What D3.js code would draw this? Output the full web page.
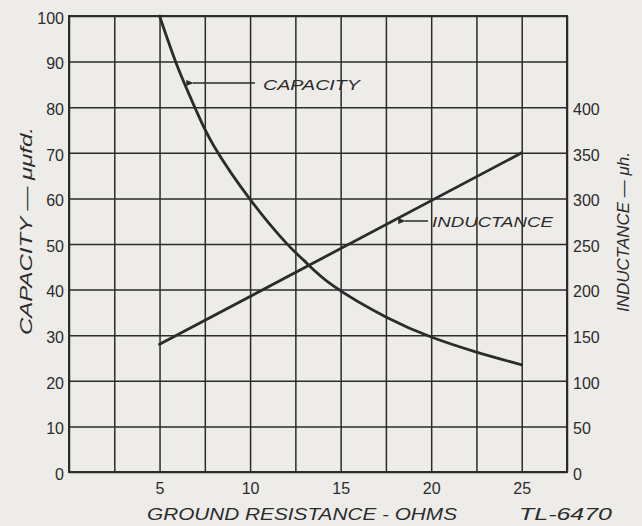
<!DOCTYPE html>
<html>
<head>
<meta charset="utf-8">
<script src="https://cdn.jsdelivr.net/npm/d3@7"></script>
<style>
  html, body { margin: 0; padding: 0; background: #eeece9; }
  svg { display: block; }
  .tick text { font-family: "Liberation Sans", Arial, sans-serif; font-size: 16px; fill: #2b2b2b; }
  .lbl { font-family: "Liberation Sans", Arial, sans-serif; font-style: italic; fill: #2b2b2b; }
</style>
</head>
<body>
<svg id="chart" width="642" height="526"></svg>
<script>
// Ground resistance (ohms) vs. capacity (μμfd.)
const capacityOhms  = [5, 6, 7, 8, 10, 12, 13, 14.6, 17.5, 20, 22.5, 25];
const capacityValue = [100, 88.8, 79.5, 71.5, 59.8, 50.2, 46.3, 40.8, 34, 29.6, 26.3, 23.5];

// Ground resistance (ohms) vs. inductance (μh.) — straight line
const inductanceOhms  = [5, 25];
const inductanceValue = [140, 350];

// Tick labels
const xTickLabels     = [5, 10, 15, 20, 25];
const capacityTicks   = [0, 10, 20, 30, 40, 50, 60, 70, 80, 90, 100];
const inductanceTicks = [0, 50, 100, 150, 200, 250, 300, 350, 400];
const xGridLines      = [0, 2.5, 5, 7.5, 10, 12.5, 15, 17.5, 20, 22.5, 25, 27.5];

const ink = "#2b2b2b";
const svg = d3.select("#chart");

const plotLeft = 69, plotRight = 567, plotTop = 16, plotBottom = 472;
const x  = d3.scaleLinear().domain([0, 27.5]).range([plotLeft, plotRight]);
const yC = d3.scaleLinear().domain([0, 100]).range([plotBottom, plotTop]);
const yL = d3.scaleLinear().domain([0, 500]).range([plotBottom, plotTop]);

// Vertical grid
svg.append("g")
  .attr("transform", `translate(0,${plotBottom})`)
  .call(d3.axisBottom(x).tickValues(xGridLines).tickSize(-(plotBottom - plotTop)).tickFormat(""))
  .call(g => g.select(".domain").remove())
  .call(g => g.selectAll(".tick line").attr("stroke", ink).attr("stroke-width", 1.5));

// Horizontal grid + capacity labels
svg.append("g")
  .attr("transform", `translate(${plotLeft},0)`)
  .call(d3.axisLeft(yC).tickValues(capacityTicks).tickSize(-(plotRight - plotLeft)).tickPadding(5))
  .call(g => g.select(".domain").remove())
  .call(g => g.selectAll(".tick line").attr("stroke", ink).attr("stroke-width", 1.5))
  .call(g => g.selectAll(".tick text").attr("dy", "0.45em"));

// Inductance labels on the right
svg.append("g")
  .attr("transform", `translate(${plotRight},0)`)
  .call(d3.axisRight(yL).tickValues(inductanceTicks).tickSize(0).tickPadding(6))
  .call(g => g.select(".domain").remove())
  .call(g => g.selectAll(".tick text").attr("dy", "0.45em"));

// Resistance labels along the bottom
svg.append("g")
  .attr("transform", `translate(0,${plotBottom})`)
  .call(d3.axisBottom(x).tickValues(xTickLabels).tickSize(0).tickPadding(11))
  .call(g => g.select(".domain").remove());

// Frame
svg.append("rect")
  .attr("x", plotLeft).attr("y", plotTop)
  .attr("width", plotRight - plotLeft).attr("height", plotBottom - plotTop)
  .attr("fill", "none").attr("stroke", ink).attr("stroke-width", 2);

// Capacity curve
const capPts = capacityOhms.map((r, i) => [r, capacityValue[i]]);
svg.append("path")
  .datum(capPts)
  .attr("fill", "none").attr("stroke", ink).attr("stroke-width", 2.8)
  .attr("stroke-linecap", "round")
  .attr("d", d3.line().x(d => x(d[0])).y(d => yC(d[1])).curve(d3.curveNatural));

// Inductance line
const indPts = inductanceOhms.map((r, i) => [r, inductanceValue[i]]);
svg.append("path")
  .datum(indPts)
  .attr("fill", "none").attr("stroke", ink).attr("stroke-width", 2.8)
  .attr("stroke-linecap", "round")
  .attr("d", d3.line().x(d => x(d[0])).y(d => yL(d[1])));

// Arrow marker for curve callouts
svg.append("defs").append("marker")
  .attr("id", "head").attr("viewBox", "0 0 10 10")
  .attr("refX", 1).attr("refY", 5)
  .attr("markerWidth", 7).attr("markerHeight", 5)
  .attr("orient", "auto-start-reverse")
  .append("path").attr("d", "M0,5 L10,1 L10,9 Z").attr("fill", ink);

// CAPACITY callout
svg.append("line")
  .attr("x1", 193).attr("y1", 83).attr("x2", 255).attr("y2", 83)
  .attr("stroke", ink).attr("stroke-width", 1.5)
  .attr("marker-start", "url(#head)");
svg.append("text").attr("class", "lbl")
  .attr("x", 263).attr("y", 90).attr("font-size", 15)
  .attr("textLength", 97).attr("lengthAdjust", "spacingAndGlyphs")
  .text("CAPACITY");

// INDUCTANCE callout
svg.append("line")
  .attr("x1", 405).attr("y1", 221).attr("x2", 428).attr("y2", 221)
  .attr("stroke", ink).attr("stroke-width", 1.5)
  .attr("marker-start", "url(#head)");
svg.append("text").attr("class", "lbl")
  .attr("x", 432).attr("y", 227).attr("font-size", 15)
  .attr("textLength", 121).attr("lengthAdjust", "spacingAndGlyphs")
  .text("INDUCTANCE");

// Axis titles
svg.append("text").attr("class", "lbl")
  .attr("x", 147).attr("y", 520).attr("font-size", 17)
  .attr("textLength", 310).attr("lengthAdjust", "spacingAndGlyphs")
  .text("GROUND RESISTANCE - OHMS");

svg.append("text").attr("class", "lbl")
  .attr("x", 519).attr("y", 520).attr("font-size", 17)
  .attr("textLength", 93).attr("lengthAdjust", "spacingAndGlyphs")
  .text("TL-6470");

svg.append("text").attr("class", "lbl")
  .attr("transform", "translate(32,335) rotate(-90)")
  .attr("font-size", 16)
  .attr("textLength", 208).attr("lengthAdjust", "spacingAndGlyphs")
  .text("CAPACITY — μμfd.");

svg.append("text").attr("class", "lbl")
  .attr("transform", "translate(629,312) rotate(-90)")
  .attr("font-size", 16)
  .attr("textLength", 160).attr("lengthAdjust", "spacingAndGlyphs")
  .text("INDUCTANCE — μh.");
</script>
</body>
</html>
